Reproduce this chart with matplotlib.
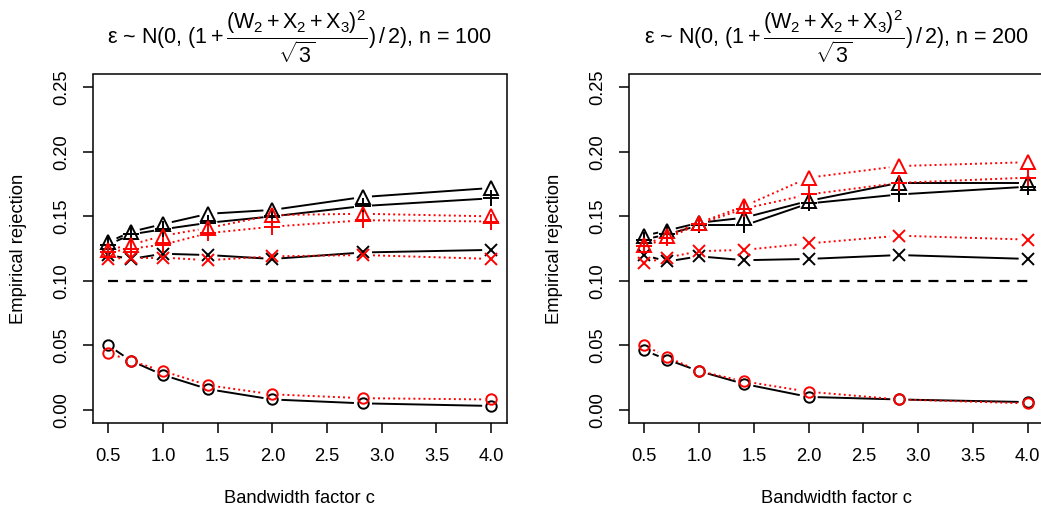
import numpy as np
import matplotlib
matplotlib.use("Agg")
import matplotlib.pyplot as plt

###############################################################
# data
###############################################################
bandwidth = [0.5, 0.707, 1.0, 1.414, 2.0, 2.828, 4.0]
nominal_level = 0.10
sample_sizes = [100, 200]

# n = 100
tri_black_100 = [0.130, 0.138, 0.144, 0.152, 0.155, 0.165, 0.172]
plus_black_100 = [0.128, 0.136, 0.140, 0.145, 0.150, 0.158, 0.164]
x_black_100 = [0.120, 0.117, 0.121, 0.120, 0.117, 0.122, 0.124]
circ_black_100 = [0.050, 0.038, 0.027, 0.016, 0.008, 0.005, 0.003]
tri_red_100 = [0.124, 0.128, 0.135, 0.141, 0.151, 0.152, 0.150]
plus_red_100 = [0.122, 0.125, 0.128, 0.137, 0.142, 0.147, 0.146]
x_red_100 = [0.117, 0.118, 0.118, 0.116, 0.119, 0.120, 0.117]
circ_red_100 = [0.044, 0.038, 0.030, 0.019, 0.012, 0.009, 0.008]

# n = 200
tri_black_200 = [0.135, 0.139, 0.145, 0.149, 0.162, 0.176, 0.176]
plus_black_200 = [0.132, 0.136, 0.143, 0.143, 0.160, 0.167, 0.173]
x_black_200 = [0.120, 0.115, 0.119, 0.116, 0.117, 0.120, 0.117]
circ_black_200 = [0.046, 0.039, 0.030, 0.020, 0.010, 0.008, 0.006]
tri_red_200 = [0.128, 0.135, 0.145, 0.158, 0.180, 0.189, 0.192]
plus_red_200 = [0.127, 0.133, 0.144, 0.156, 0.167, 0.176, 0.180]
x_red_200 = [0.114, 0.118, 0.123, 0.124, 0.129, 0.135, 0.132]
circ_red_200 = [0.050, 0.041, 0.030, 0.022, 0.014, 0.008, 0.005]

###############################################################
# style - mimic R base graphics
###############################################################
plt.rcParams["font.family"] = ["Liberation Sans", "DejaVu Sans"]
plt.rcParams["mathtext.fontset"] = "custom"
plt.rcParams["mathtext.rm"] = "Liberation Sans"
plt.rcParams["mathtext.it"] = "Liberation Sans"
plt.rcParams["mathtext.bf"] = "Liberation Sans:bold"
plt.rcParams["font.size"] = 13.2

DPI = 100
fig = plt.figure(figsize=(10.41, 5.16), dpi=DPI)

# axes boxes in pixels (left, right, top, bottom)
boxes = [(93, 506.5, 74.5, 422.7), (629, 1043, 74.5, 422.7)]
W, H = 1041, 516

xlim = (0.36, 4.14)
ylim = (-0.01, 0.26)
gap_px = 10


def gapped_line(ax, x, y, **kw):
    # R type="b": segments stop short of each point
    pts = ax.transData.transform(np.column_stack([x, y]))
    inv = ax.transData.inverted()
    for p0, p1 in zip(pts[:-1], pts[1:]):
        d = p1 - p0
        length = np.hypot(*d)
        if length <= 2 * gap_px:
            continue
        u = d / length
        a = inv.transform(p0 + u * gap_px)
        b = inv.transform(p1 - u * gap_px)
        ax.plot([a[0], b[0]], [a[1], b[1]], **kw)


panels = [
    [(tri_black_100, plus_black_100, x_black_100, circ_black_100),
     (tri_red_100, plus_red_100, x_red_100, circ_red_100)],
    [(tri_black_200, plus_black_200, x_black_200, circ_black_200),
     (tri_red_200, plus_red_200, x_red_200, circ_red_200)],
]

markers = [("^", 10), ("+", 11), ("x", 8), ("o", 7.5)]

for (l, r, t, b), n, (black_set, red_set) in zip(boxes, sample_sizes, panels):
    ax = fig.add_axes([l / W, (H - b) / H, (r - l) / W, (b - t) / H])
    ax.set_xlim(*xlim)
    ax.set_ylim(*ylim)

    for series_set, colour, style in [(black_set, "black", dict(linestyle="-")),
                                      (red_set, "#FF0000", dict(linestyle=(0, (1, 1.6))))]:
        for vals, (mk, ms) in zip(series_set, markers):
            gapped_line(ax, bandwidth, vals, color=colour, lw=1.4, **style)
            ax.plot(bandwidth, vals, linestyle="none", marker=mk, ms=ms,
                    mfc="none", mec=colour, mew=1.4)

    # nominal level
    ax.plot([bandwidth[0], bandwidth[-1]], [nominal_level, nominal_level],
            color="black", lw=1.6, linestyle=(0, (4.5, 3.5)))

    ax.set_xticks([0.5, 1.0, 1.5, 2.0, 2.5, 3.0, 3.5, 4.0])
    ax.set_yticks([0.0, 0.05, 0.10, 0.15, 0.20, 0.25])
    ax.set_yticklabels(["0.00", "0.05", "0.10", "0.15", "0.20", "0.25"],
                       rotation=90, va="center")
    ax.tick_params(direction="out", length=7.5, width=1.1, pad=11, labelsize=13.2)
    ax.tick_params(axis="y", pad=9)
    for s in ax.spines.values():
        s.set_linewidth(1.1)

    ax.set_xlabel("Bandwidth factor c", labelpad=18)
    ax.set_ylabel("Empirical rejection", labelpad=19)
    ax.set_title(r"ε ~ N(0, $(1+\dfrac{(W_2+X_2+X_3)^2}{\sqrt{3}})\,/\,2$), n = " + str(n),
                 fontsize=15.5, pad=21)

fig.savefig("out.png", dpi=DPI)
